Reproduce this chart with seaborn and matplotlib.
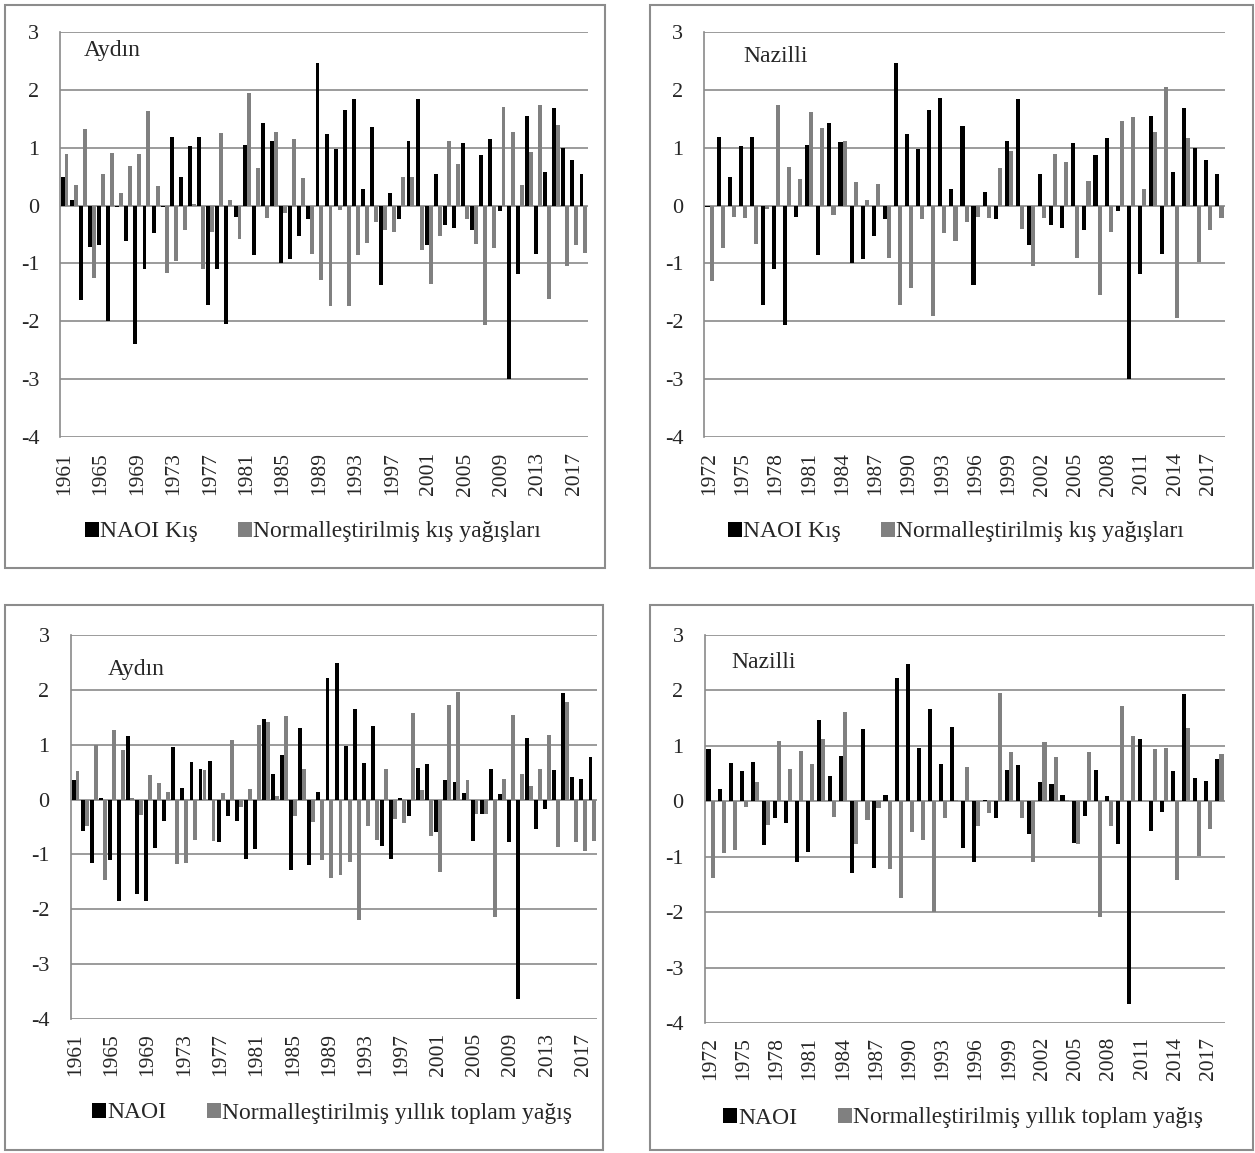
import matplotlib
matplotlib.use("Agg")
import matplotlib.pyplot as plt
import numpy as np
import pandas as pd
import seaborn as sns
from matplotlib.patches import Patch, Rectangle

# ---------------- data ----------------
years_aydin = list(range(1961, 2019))
years_nazilli = list(range(1972, 2019))

naoi_winter_aydin = [0.50, 0.09, -1.64, -0.72, -0.68, -2.00, -0.02, -0.62, -2.39, -1.10,
                     -0.48, -0.03, 1.18, 0.50, 1.03, 1.18, -1.71, -1.10, -2.05, -0.20,
                     1.04, -0.86, 1.42, 1.11, -0.99, -0.92, -0.53, -0.24, 2.47, 1.23,
                     0.98, 1.65, 1.85, 0.28, 1.36, -1.38, 0.21, -0.24, 1.11, 1.84,
                     -0.68, 0.54, -0.34, -0.39, 1.09, -0.42, 0.87, 1.15, -0.10, -3.00,
                     -1.19, 1.54, -0.84, 0.58, 1.68, 1.00, 0.78, 0.55]
precip_winter_aydin = [0.89, 0.36, 1.32, -1.26, 0.55, 0.91, 0.21, 0.68, 0.89, 1.63,
                       0.33, -1.17, -0.95, -0.42, 0.03, -1.09, -0.45, 1.25, 0.10, -0.58,
                       1.94, 0.65, -0.22, 1.28, -0.12, 1.15, 0.47, -0.84, -1.28, -1.74,
                       -0.08, -1.74, -0.86, -0.64, -0.28, -0.43, -0.45, 0.49, 0.50, -0.77,
                       -1.35, -0.52, 1.12, 0.71, -0.23, -0.66, -2.07, -0.73, 1.71, 1.27,
                       0.35, 0.92, 1.73, -1.61, 1.40, -1.04, -0.68, -0.82]

naoi_winter_nazilli = [-0.02, 1.18, 0.50, 1.03, 1.18, -1.71, -1.10, -2.06, -0.20, 1.04,
                       -0.86, 1.42, 1.10, -0.99, -0.92, -0.52, -0.23, 2.47, 1.23, 0.98,
                       1.65, 1.86, 0.28, 1.37, -1.38, 0.23, -0.24, 1.12, 1.85, -0.68,
                       0.54, -0.33, -0.39, 1.09, -0.42, 0.88, 1.16, -0.10, -3.00, -1.19,
                       1.54, -0.84, 0.58, 1.68, 1.00, 0.78, 0.55]
precip_winter_nazilli = [-1.31, -0.74, -0.19, -0.21, -0.66, -0.06, 1.73, 0.66, 0.46, 1.62,
                         1.34, -0.16, 1.11, 0.41, 0.10, 0.38, -0.90, -1.71, -1.43, -0.23,
                         -1.90, -0.48, -0.62, -0.29, -0.20, -0.21, 0.65, 0.95, -0.40, -1.04,
                         -0.22, 0.89, 0.76, -0.90, 0.42, -1.55, -0.45, 1.46, 1.53, 0.28,
                         1.27, 2.05, -1.94, 1.17, -0.97, -0.43, -0.21]

naoi_annual_aydin = [0.35, -0.58, -1.15, 0.02, -1.10, -1.85, 1.15, -1.72, -1.85, -0.88,
                     -0.39, 0.95, 0.22, 0.69, 0.55, 0.70, -0.77, -0.30, -0.39, -1.09,
                     -0.91, 1.46, 0.46, 0.81, -1.28, 1.31, -1.20, 0.13, 2.22, 2.49,
                     0.97, 1.66, 0.67, 1.34, -0.84, -1.09, 0.03, -0.30, 0.58, 0.65,
                     -0.59, 0.35, 0.32, 0.12, -0.75, -0.26, 0.56, 0.11, -0.77, -3.64,
                     1.13, -0.53, -0.18, 0.54, 1.94, 0.42, 0.37, 0.77]
precip_annual_aydin = [0.52, -0.49, 0.99, -1.46, 1.26, 0.90, 0.02, -0.29, 0.45, 0.30,
                       0.13, -1.18, -1.15, -0.73, 0.53, -0.76, 0.12, 1.09, -0.13, 0.20,
                       1.36, 1.41, 0.06, 1.53, -0.30, 0.56, -0.41, -1.10, -1.43, -1.37,
                       -1.14, -2.20, -0.48, -0.73, 0.56, -0.36, -0.42, 1.58, 0.18, -0.67,
                       -1.32, 1.72, 1.96, 0.35, -0.27, -0.27, -2.14, 0.38, 1.54, 0.47,
                       0.25, 0.55, 1.18, -0.86, 1.77, -0.77, -0.93, -0.75]

naoi_annual_nazilli = [0.95, 0.22, 0.69, 0.55, 0.70, -0.78, -0.30, -0.40, -1.10, -0.91,
                       1.46, 0.46, 0.81, -1.29, 1.30, -1.20, 0.12, 2.22, 2.48, 0.97,
                       1.66, 0.67, 1.34, -0.84, -1.10, 0.03, -0.30, 0.57, 0.65, -0.59,
                       0.35, 0.31, 0.12, -0.75, -0.27, 0.56, 0.10, -0.77, -3.66, 1.12,
                       -0.53, -0.19, 0.54, 1.94, 0.42, 0.37, 0.76]
precip_annual_nazilli = [-1.38, -0.93, -0.87, -0.11, 0.35, -0.42, 1.09, 0.58, 0.91, 0.68,
                         1.12, -0.29, 1.61, -0.77, -0.33, -0.13, -1.23, -1.74, -0.55, -0.70,
                         -1.99, -0.30, 0.03, 0.61, -0.44, -0.21, 1.96, 0.89, -0.30, -1.09,
                         1.07, 0.79, 0.02, -0.77, 0.89, -2.08, -0.44, 1.72, 1.18, 0.01,
                         0.95, 0.96, -1.42, 1.33, -0.99, -0.50, 0.85]

y_ticks = [-4, -3, -2, -1, 0, 1, 2, 3]
label_naoi_winter = "NAOI Kış"
label_precip_winter = "Normalleştirilmiş kış yağışları"
label_naoi_annual = "NAOI"
label_precip_annual = "Normalleştirilmiş yıllık toplam yağış"

# ---------------- style ----------------
sns.set_style("white")
plt.rcParams["font.family"] = ["Liberation Serif", "DejaVu Serif"]

W, H = 1255, 1153
fig = plt.figure(figsize=(W / 100, H / 100), dpi=100)
GRID = "#8a8a8a"
BLACK = "#000000"
GRAY = "#808080"
FS = 15.5


def px_axes(x0, y0, x1, y1):
    return fig.add_axes([x0 / W, 1 - y1 / H, (x1 - x0) / W, (y1 - y0) / H])


def panel(ax, years, naoi, precip, lab_n, lab_p, station, step, width, spos, ypad, xpad):
    df = pd.DataFrame({
        "Yıl": years + years,
        "Değer": naoi + precip,
        "Seri": [lab_n] * len(years) + [lab_p] * len(years),
    })
    sns.barplot(data=df, x="Yıl", y="Değer", hue="Seri", hue_order=[lab_n, lab_p],
                palette=[BLACK, GRAY], width=width, linewidth=0, errorbar=None,
                legend=False, ax=ax)
    ax.set_ylim(-4, 3)
    ax.set_yticks(y_ticks)
    ax.set_yticklabels([str(v) for v in y_ticks], fontsize=FS + 0.5)
    ax.set_xticks(range(0, len(years), step))
    ax.set_xticklabels([str(y) for y in years[::step]], rotation=90, fontsize=FS)
    ax.set_xlabel("")
    ax.set_ylabel("")
    ax.set_xlim(-0.5, len(years) - 0.5)
    ax.grid(axis="y", color=GRID, lw=1.2)
    ax.grid(axis="x", visible=False)
    ax.set_axisbelow(True)
    for s in ["top", "right", "bottom"]:
        ax.spines[s].set_visible(False)
    ax.spines["left"].set_color(GRID)
    ax.spines["left"].set_linewidth(1.2)
    ax.tick_params(axis="y", length=5.5, color=GRID, width=1.2, pad=ypad)
    ax.tick_params(axis="x", length=0, pad=xpad)
    ax.text(spos[0], spos[1], station, transform=ax.transAxes, fontsize=17,
            ha="left", va="center")


def legend(lab_n, lab_p, cx, cy, spacing):
    handles = [Patch(facecolor=BLACK, edgecolor="none"),
               Patch(facecolor=GRAY, edgecolor="none")]
    fig.legend(handles, [lab_n, lab_p], loc="center", bbox_to_anchor=(cx / W, 1 - cy / H),
               ncol=2, frameon=False, fontsize=17, handlelength=0.6, handleheight=0.6,
               handletextpad=0.05, columnspacing=spacing)


def box(x0, y0, x1, y1):
    fig.add_artist(Rectangle((x0 / W, 1 - y1 / H), (x1 - x0) / W, (y1 - y0) / H,
                             transform=fig.transFigure, fill=False,
                             edgecolor="#8c8c8c", lw=1.5))


# top-left
ax1 = px_axes(60, 32, 588, 437)
panel(ax1, years_aydin, naoi_winter_aydin, precip_winter_aydin,
      label_naoi_winter, label_precip_winter, "Aydın", 4, 0.86, (0.045, 0.955), 9.5, 11)
legend(label_naoi_winter, label_precip_winter, 313, 532, 1.7)
box(5, 5, 605, 568)

# top-right
ax2 = px_axes(704, 32, 1225, 437)
panel(ax2, years_nazilli, naoi_winter_nazilli, precip_winter_nazilli,
      label_naoi_winter, label_precip_winter, "Nazilli", 3, 0.74, (0.075, 0.94), 9.5, 11)
legend(label_naoi_winter, label_precip_winter, 956, 532, 1.7)
box(650, 5, 1253, 568)

# bottom-left
ax3 = px_axes(71, 635, 597, 1019)
panel(ax3, years_aydin, naoi_annual_aydin, precip_annual_aydin,
      label_naoi_annual, label_precip_annual, "Aydın", 4, 0.86, (0.07, 0.91), 10, 10)
legend(label_naoi_annual, label_precip_annual, 332, 1113, 1.7)
box(5, 605, 603, 1150)

# bottom-right
ax4 = px_axes(705, 635, 1225, 1023)
panel(ax4, years_nazilli, naoi_annual_nazilli, precip_annual_nazilli,
      label_naoi_annual, label_precip_annual, "Nazilli", 3, 0.74, (0.05, 0.93), 10, 10)
legend(label_naoi_annual, label_precip_annual, 963, 1118, 1.7)
box(650, 605, 1253, 1150)

fig.savefig("out.png", dpi=100, facecolor="white")
